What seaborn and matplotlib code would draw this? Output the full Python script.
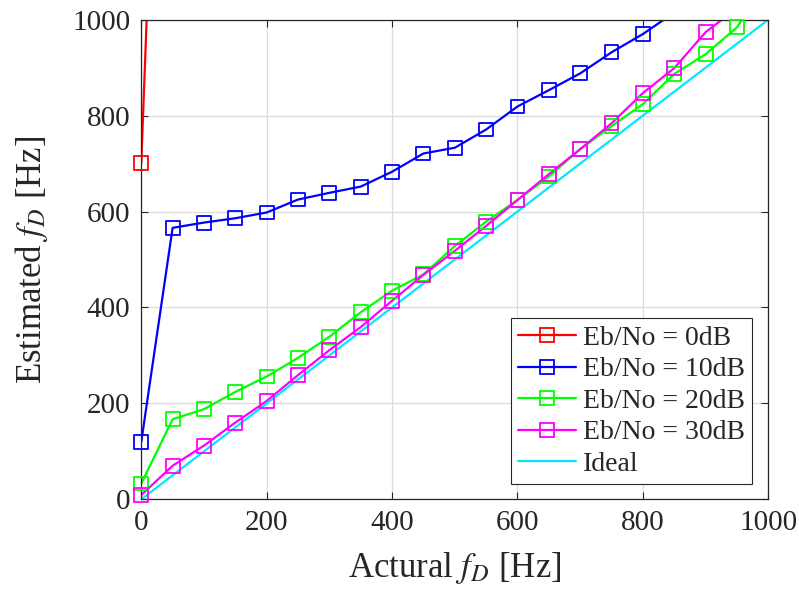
import numpy as np
import pandas as pd
import matplotlib
matplotlib.use("Agg")
import matplotlib.pyplot as plt
from matplotlib.lines import Line2D
import seaborn as sns

# ---- data ----
x_red = [0, 50]
y_red = [701, 2440]

x_blue = [0, 50, 100, 150, 200, 250, 300, 350, 400, 450, 500, 550, 600, 650, 700, 750, 800, 850, 900]
y_blue = [120, 566, 577, 586, 598, 625, 639, 652, 683, 721, 733, 771, 819, 853, 888, 932, 970, 1015, 1055]

x_green = [0, 50, 100, 150, 200, 250, 300, 350, 400, 450, 500, 550, 600, 650, 700, 750, 800, 850, 900, 950, 1000]
y_green = [33, 167, 188, 224, 256, 295, 339, 390, 435, 469, 528, 579, 624, 673, 730, 778, 824, 887, 928, 984, 1085]

x_mag = [0, 50, 100, 150, 200, 250, 300, 350, 400, 450, 500, 550, 600, 650, 700, 750, 800, 850, 900, 950, 1000]
y_mag = [9, 70, 112, 160, 205, 259, 311, 359, 414, 468, 518, 570, 624, 678, 730, 784, 847, 899, 974, 1024, 1075]

x_ideal = [0, 1000]
y_ideal = [0, 1000]

labels = ["Eb/No = 0dB", "Eb/No = 10dB", "Eb/No = 20dB", "Eb/No = 30dB", "Ideal"]
colors = ["#ff0000", "#0000ff", "#00ff00", "#ff00ff", "#00e8ff"]
xticks = [0, 200, 400, 600, 800, 1000]
yticks = [0, 200, 400, 600, 800, 1000]

sns.set_theme(style="white")
plt.rcParams['font.family'] = ['Liberation Serif', 'DejaVu Serif']
plt.rcParams['mathtext.fontset'] = 'stix'

fig = plt.figure(figsize=(7.99, 5.96), dpi=100)
ax = fig.add_axes([0.1768, 0.1622, 0.7848, 0.8048])

LW = 1.6
MS = 10
MEW = 1.3
handles = []
series = [(x_red, y_red), (x_blue, y_blue), (x_green, y_green), (x_mag, y_mag)]
for (xs, ys), lab, col in zip(series, labels[:4], colors[:4]):
    df = pd.DataFrame({"x": xs, "y": ys})
    sns.lineplot(data=df, x="x", y="y", ax=ax, color=col, linewidth=LW,
                 sort=False, estimator=None, legend=False)
    # markers of in-range points are drawn whole (MATLAB style)
    dfin = df[(df.x >= 0) & (df.x <= 1000) & (df.y >= 0) & (df.y <= 1000)]
    sns.scatterplot(data=dfin, x="x", y="y", ax=ax, marker="s", s=MS ** 2,
                    facecolors="none", edgecolor=col, linewidth=MEW,
                    clip_on=False, legend=False, zorder=3)
    handles.append(Line2D([], [], color=col, linewidth=LW, marker="s",
                          markersize=MS, markerfacecolor="none",
                          markeredgecolor=col, markeredgewidth=MEW, label=lab))
df_i = pd.DataFrame({"x": x_ideal, "y": y_ideal})
sns.lineplot(data=df_i, x="x", y="y", ax=ax, color=colors[4], linewidth=LW,
             sort=False, estimator=None, legend=False)
handles.append(Line2D([], [], color=colors[4], linewidth=LW, label=labels[4]))

ax.set_xlim(0, 1000)
ax.set_ylim(0, 1000)
ax.set_xticks(xticks)
ax.set_yticks(yticks)
ax.grid(True, color="#dcdcdc", linewidth=0.9)
ax.set_axisbelow(True)
for s in ax.spines.values():
    s.set_color("#262626")
    s.set_linewidth(0.9)
    s.set_visible(True)
ax.tick_params(direction="in", length=5, width=0.8, colors="#262626",
               labelsize=21, top=True, right=True, bottom=True, left=True,
               labelcolor="#262626", pad=8)
ax.set_xlabel("Actural $f_D$ [Hz]", fontsize=25, color="#262626", labelpad=10)
ax.set_ylabel("Estimated $f_D$ [Hz]", fontsize=25, color="#262626", labelpad=16)

leg = ax.legend(handles=handles, loc="lower right", bbox_to_anchor=(0.974, 0.032),
                borderaxespad=0, fontsize=20, frameon=True, fancybox=False,
                edgecolor="#262626", framealpha=1, handlelength=2.1,
                handletextpad=0.25, labelspacing=0.22, borderpad=0.25)
leg.get_frame().set_linewidth(0.8)

fig.savefig("out.png", dpi=100)
